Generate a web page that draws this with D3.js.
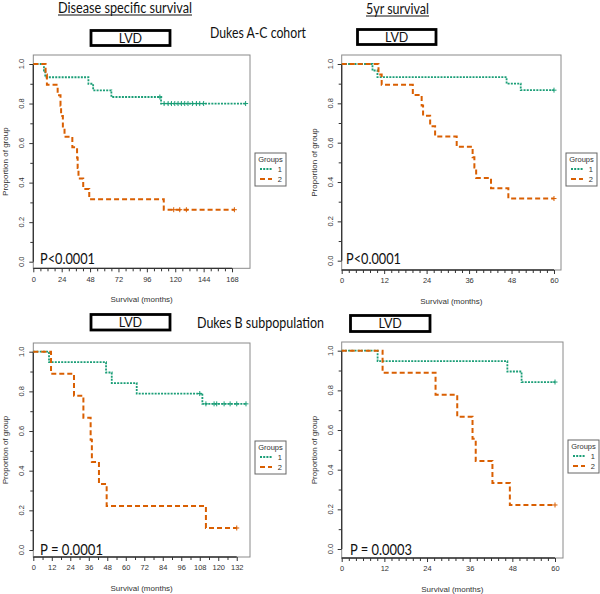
<!DOCTYPE html>
<html><head><meta charset="utf-8">
<script src="https://cdn.jsdelivr.net/npm/d3@7/dist/d3.min.js"></script>
<style>body{margin:0;background:#fff}</style>
</head><body>
<svg id="c" width="600" height="594"></svg>
<script>
// ---------- DATA ----------
const groupLabels = ["1", "2"];
const legendTitle = "Groups";
const xAxisTitle = "Survival (months)";
const yAxisTitle = "Proportion of group";
const yTicks = [0.0, 0.2, 0.4, 0.6, 0.8, 1.0];
const yMinor = [0.1, 0.3, 0.5, 0.7, 0.9];
const xTicksLong = [0, 24, 48, 72, 96, 120, 144, 168];
const xTicksB = [0, 12, 24, 36, 48, 60, 72, 84, 96, 108, 120, 132];
const xTicks5yr = [0, 12, 24, 36, 48, 60];

// Panel A: Dukes A-C, disease specific survival
const dssAC_g1_times = [9, 10.1, 46.6, 50.6, 66, 108];
const dssAC_g1_surv  = [0.967, 0.933, 0.9, 0.867, 0.833, 0.8];
const dssAC_g1_censor = [107, 110.6, 114, 116.8, 119.6, 122.4, 125.2, 128, 130.8, 134.5, 137.9, 140.7, 144, 179.5];
const dssAC_g2_times = [10.4, 11.5, 20.6, 23, 23.5, 25, 26.4, 33, 37, 37.5, 38.2, 42.2, 47.3, 110.3];
const dssAC_g2_surv  = [0.947, 0.895, 0.842, 0.789, 0.737, 0.684, 0.632, 0.579, 0.526, 0.474, 0.421, 0.368, 0.316, 0.263];
const dssAC_g2_censor = [118.7, 123.8, 129.4, 170];

// Panel B: Dukes A-C, 5yr survival
const yr5AC_g1_times = [8.7, 10.1, 46.6, 50.6];
const yr5AC_g1_surv  = [0.967, 0.933, 0.9, 0.867];
const yr5AC_g1_censor = [60];
const yr5AC_g2_times = [10.4, 11.3, 20.1, 22.6, 23, 25, 26.4, 32.5, 37, 37.5, 38, 42.2, 47.1];
const yr5AC_g2_surv  = [0.947, 0.895, 0.842, 0.789, 0.737, 0.684, 0.632, 0.579, 0.526, 0.474, 0.421, 0.368, 0.316];
const yr5AC_g2_censor = [60];

// Panel C: Dukes B, disease specific survival
const dssB_g1_times = [10.2, 47.2, 50.9, 67.1, 109.7];
const dssB_g1_surv  = [0.947, 0.895, 0.842, 0.789, 0.737];
const dssB_g1_censor = [108, 112, 117.3, 119, 123.8, 127.7, 132, 138];
const dssB_g2_times = [11.5, 26.4, 32.5, 37.2, 38, 42.6, 47.6, 112];
const dssB_g2_surv  = [0.889, 0.778, 0.667, 0.556, 0.444, 0.333, 0.222, 0.111];
const dssB_g2_censor = [132];

// Panel D: Dukes B, 5yr survival
const yr5B_g1_times = [10.1, 46.6, 50.6];
const yr5B_g1_surv  = [0.947, 0.895, 0.842];
const yr5B_g1_censor = [60];
const yr5B_g2_times = [11.5, 26.4, 32.5, 36.8, 37.7, 42.4, 47.3];
const yr5B_g2_surv  = [0.889, 0.778, 0.667, 0.556, 0.444, 0.333, 0.222];
const yr5B_g2_censor = [60];

const pValues = ["P<0.0001", "P<0.0001", "P = 0.0001", "P = 0.0003"];

// ---------- LAYOUT ----------
const svg = d3.select("#c");
svg.append("rect").attr("width", 600).attr("height", 594).attr("fill", "#fff");

const green = "#1b9e77", orange = "#d95f02";
const calib = "Lato, 'Open Sans', sans-serif";
const helv = "'Liberation Sans', Arial, sans-serif";

const panels = [
  {box:[33.3, 55, 250, 268.3], xd:[0,183.2], yr:[261.7,64], ticks:xTicksLong, minorStep:6,
   g1:[dssAC_g1_times, dssAC_g1_surv, dssAC_g1_censor], g2:[dssAC_g2_times, dssAC_g2_surv, dssAC_g2_censor],
   p:pValues[0], px:40, py:264, pw:55},
  {box:[341.7, 55, 561, 270], xd:[0,61.98], yr:[260.7,64], ticks:xTicks5yr, minorStep:2,
   g1:[yr5AC_g1_times, yr5AC_g1_surv, yr5AC_g1_censor], g2:[yr5AC_g2_times, yr5AC_g2_surv, yr5AC_g2_censor],
   p:pValues[1], px:346, py:264, pw:55},
  {box:[33.3, 343, 250, 557], xd:[0,140.6], yr:[550,351.7], ticks:xTicksB, minorStep:6,
   g1:[dssB_g1_times, dssB_g1_surv, dssB_g1_censor], g2:[dssB_g2_times, dssB_g2_surv, dssB_g2_censor],
   p:pValues[2], px:40, py:555, pw:63},
  {box:[341.7, 342, 563, 558], xd:[0,62.25], yr:[549,350.7], ticks:xTicks5yr, minorStep:2,
   g1:[yr5B_g1_times, yr5B_g1_surv, yr5B_g1_censor], g2:[yr5B_g2_times, yr5B_g2_surv, yr5B_g2_censor],
   p:pValues[3], px:350, py:555, pw:62}
];

function survAt(times, surv, t) {
  let s = 1;
  for (let i = 0; i < times.length; i++) if (times[i] <= t) s = surv[i];
  return s;
}

panels.forEach(P => {
  const [L, T, R, B] = P.box;
  const x = d3.scaleLinear().domain(P.xd).range([L, R]);
  const y = d3.scaleLinear().domain([0, 1]).range(P.yr);
  const g = svg.append("g");

  g.append("rect").attr("x", L).attr("y", T).attr("width", R - L).attr("height", B - T)
    .attr("fill", "none").attr("stroke", "#8a8a8a").attr("stroke-width", 1);

  const last = P.ticks[P.ticks.length - 1];
  const minor = d3.range(0, last + 0.001, P.minorStep).filter(v => !P.ticks.includes(v));
  const xa = g.append("g").attr("transform", `translate(0,${B})`);
  xa.call(d3.axisBottom(x).tickValues(P.ticks).tickSize(4).tickPadding(4).tickFormat(d3.format("d")));
  xa.append("g").call(d3.axisBottom(x).tickValues(minor).tickSize(3).tickFormat(""));
  xa.selectAll(".domain").remove();
  xa.append("line").attr("x1", x(0)).attr("x2", x(last)).attr("stroke", "#333").attr("stroke-width", 1.3);
  xa.selectAll("line").attr("stroke", "#333");
  xa.selectAll("text").attr("font-family", helv).attr("font-size", 7.5).attr("fill", "#333");

  const ya = g.append("g").attr("transform", `translate(${L},0)`);
  ya.call(d3.axisLeft(y).tickValues(yTicks).tickSize(4).tickFormat(""));
  ya.append("g").call(d3.axisLeft(y).tickValues(yMinor).tickSize(3).tickFormat(""));
  ya.selectAll(".domain").remove();
  ya.append("line").attr("y1", y(0)).attr("y2", y(1)).attr("stroke", "#333").attr("stroke-width", 1.3);
  ya.selectAll("line").attr("stroke", "#333");
  yTicks.forEach(v => {
    g.append("text").attr("transform", `translate(${L - 9},${y(v)}) rotate(-90)`)
      .attr("text-anchor", "middle").attr("font-family", helv).attr("font-size", 7.5)
      .attr("fill", "#333").text(d3.format(".1f")(v));
  });

  g.append("text").attr("x", (L + R) / 2).attr("y", B + 34).attr("text-anchor", "middle")
    .attr("font-family", helv).attr("font-size", 8).attr("fill", "#333").text(xAxisTitle);
  g.append("text").attr("transform", `translate(${L - 25},${(T + B) / 2}) rotate(-90)`)
    .attr("text-anchor", "middle").attr("font-family", helv).attr("font-size", 8)
    .attr("fill", "#333").text(yAxisTitle);

  const line = d3.line().x(d => x(d[0])).y(d => y(d[1])).curve(d3.curveStepAfter);
  const groups = [
    {d:P.g1, color:green, dash:"2,1.2", w:1.8},
    {d:P.g2, color:orange, dash:"5,3", w:2}
  ];
  groups.forEach(G => {
    const [times, surv, cens] = G.d;
    const end = Math.max(times[times.length - 1], d3.max(cens));
    const pts = [[0, 1]].concat(times.map((t, i) => [t, surv[i]]));
    pts.push([end, surv[surv.length - 1]]);
    g.append("path").attr("d", line(pts)).attr("fill", "none").attr("stroke", G.color)
      .attr("stroke-width", G.w).attr("stroke-dasharray", G.dash);
    cens.forEach(c => {
      const cx = x(c), cy = y(survAt(times, surv, c));
      g.append("path").attr("d", `M${cx - 2.5},${cy}H${cx + 2.5}M${cx},${cy - 2.5}V${cy + 2.5}`)
        .attr("stroke", G.color).attr("stroke-width", 1);
    });
  });

  const lx = R + 5, ly = T + 98;
  const lg = g.append("g");
  lg.append("rect").attr("x", lx).attr("y", ly).attr("width", 31).attr("height", 33)
    .attr("fill", "#fff").attr("stroke", "#666").attr("stroke-width", 1);
  lg.append("text").attr("x", lx + 15.5).attr("y", ly + 9).attr("text-anchor", "middle")
    .attr("font-family", helv).attr("font-size", 7.5).attr("fill", "#333").text(legendTitle);
  groups.forEach((G, i) => {
    const yy = ly + 16 + i * 10;
    lg.append("line").attr("x1", lx + 5).attr("x2", lx + 17).attr("y1", yy).attr("y2", yy)
      .attr("stroke", G.color).attr("stroke-width", G.w).attr("stroke-dasharray", G.dash);
    lg.append("text").attr("x", lx + 27).attr("y", yy + 2.7).attr("text-anchor", "end")
      .attr("font-family", helv).attr("font-size", 7.5).attr("fill", "#333").text(groupLabels[i]);
  });

  g.append("text").attr("x", P.px).attr("y", P.py).attr("font-family", calib)
    .attr("font-size", 14.5).attr("fill", "#111")
    .attr("textLength", P.pw).attr("lengthAdjust", "spacingAndGlyphs").text(P.p);
});

// ---------- HEADERS ----------
function header(txt, x0, w, yb, size, underline) {
  svg.append("text").attr("x", x0).attr("y", yb)
    .attr("font-family", calib).attr("font-size", size).attr("fill", "#111")
    .attr("textLength", w).attr("lengthAdjust", "spacingAndGlyphs").text(txt);
  if (underline) {
    svg.append("line").attr("x1", x0).attr("x2", x0 + w).attr("y1", yb + 2).attr("y2", yb + 2)
      .attr("stroke", "#111").attr("stroke-width", 1);
  }
}
header("Disease specific survival", 58, 134, 13, 14.5, true);
header("5yr survival", 366, 63, 14, 14.5, true);
header("Dukes A-C cohort", 210, 96, 38, 15, false);
header("Dukes B subpopulation", 197, 127, 328, 15, false);

function lvd(x0, y0, x1, y1) {
  svg.append("rect").attr("x", x0).attr("y", y0).attr("width", x1 - x0).attr("height", y1 - y0)
    .attr("fill", "#fff").attr("stroke", "#000").attr("stroke-width", 2.8);
  svg.append("text").attr("x", (x0 + x1) / 2).attr("y", (y0 + y1) / 2 + 4.5).attr("text-anchor", "middle")
    .attr("font-family", calib).attr("font-size", 12.5).attr("fill", "#111").text("LVD");
}
lvd(91, 30.5, 170, 45.5);
lvd(357.5, 29.5, 436, 44.5);
lvd(91, 314.5, 170, 330);
lvd(350.5, 315.5, 430, 331.5);
</script>
</body></html>
